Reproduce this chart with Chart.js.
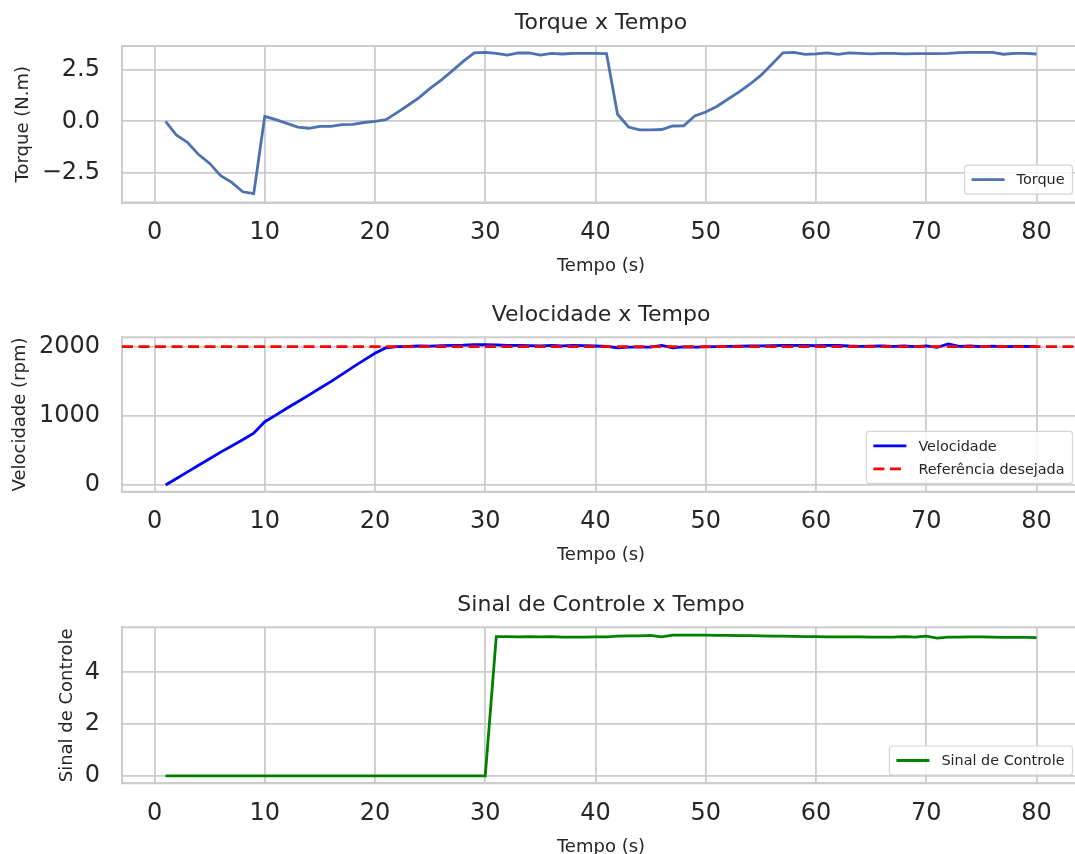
<!DOCTYPE html>
<html>
<head>
<meta charset="utf-8">
<script src="https://cdn.jsdelivr.net/npm/chart.js@4.4.1/dist/chart.umd.min.js"></script>
<style>
  html, body { margin: 0; padding: 0; background: #ffffff; overflow: hidden; width: 1075px; height: 854px; }
  canvas { position: absolute; left: 0; }
</style>
</head>
<body>
<canvas id="c1" width="1080" height="290" style="top:0px"></canvas>
<canvas id="c2" width="1080" height="290" style="top:290px"></canvas>
<canvas id="c3" width="1080" height="290" style="top:580px"></canvas>
<script>
// ---------------- DATA ----------------
const tempo = [1,2,3,4,5,6,7,8,9,10,11,12,13,14,15,16,17,18,19,20,
  21,22,23,24,25,26,27,28,29,30,31,32,33,34,35,36,37,38,39,40,
  41,42,43,44,45,46,47,48,49,50,51,52,53,54,55,56,57,58,59,60,
  61,62,63,64,65,66,67,68,69,70,71,72,73,74,75,76,77,78,79,80];

const torque = [0.00,-0.68,-1.03,-1.62,-2.05,-2.65,-2.97,-3.43,-3.52,0.24,
  0.08,-0.10,-0.28,-0.34,-0.25,-0.25,-0.16,-0.15,-0.06,0.00,
  0.08,0.42,0.78,1.15,1.60,2.00,2.45,2.91,3.33,3.35,
  3.30,3.22,3.32,3.32,3.22,3.30,3.27,3.30,3.30,3.30,
  3.29,0.34,-0.28,-0.42,-0.42,-0.40,-0.23,-0.22,0.26,0.45,
  0.72,1.07,1.42,1.80,2.23,2.77,3.33,3.35,3.25,3.28,
  3.33,3.25,3.33,3.30,3.28,3.30,3.30,3.28,3.29,3.29,
  3.29,3.30,3.34,3.35,3.35,3.35,3.26,3.30,3.30,3.27];

const velocidade = [0,95,190,285,380,475,565,655,750,915,
  1010,1110,1205,1300,1400,1495,1600,1705,1805,1905,
  1985,2000,2005,2010,2008,2015,2020,2022,2030,2028,
  2025,2018,2020,2015,2010,2020,2012,2018,2015,2010,
  2005,1985,1995,1995,1995,2020,1985,1998,1995,1998,
  2000,2005,2008,2010,2012,2015,2018,2020,2018,2015,
  2018,2020,2010,2005,2008,2010,2005,2010,2000,2012,
  1990,2040,2005,2010,2000,2008,2002,2005,2003,2005];

const referencia = 2000;

const sinalControle = [0,0,0,0,0,0,0,0,0,0,
  0,0,0,0,0,0,0,0,0,0,
  0,0,0,0,0,0,0,0,0,0,
  5.38,5.38,5.37,5.38,5.37,5.38,5.36,5.36,5.36,5.37,
  5.37,5.40,5.41,5.41,5.43,5.37,5.44,5.44,5.44,5.44,
  5.43,5.43,5.42,5.42,5.41,5.40,5.40,5.39,5.38,5.38,
  5.37,5.37,5.37,5.37,5.36,5.36,5.36,5.38,5.36,5.40,
  5.32,5.36,5.36,5.37,5.37,5.36,5.35,5.35,5.35,5.34];

const xTicks = [0,10,20,30,40,50,60,70,80];
const xRange = [-2.95, 83.95];

const yTicksTorque = [-2.5, 0, 2.5];
const yLabelsTorque = ['\u22122.5', '0.0', '2.5'];
const yRangeTorque = [-3.95, 3.66];

const yTicksVel = [0, 1000, 2000];
const yLabelsVel = ['0', '1000', '2000'];
const yRangeVel = [-97, 2136];

const yTicksSinal = [0, 2, 4];
const yLabelsSinal = ['0', '2', '4'];
const yRangeSinal = [-0.29, 5.74];

// ---------------- STYLE ----------------
const FONT = "'DejaVu Sans', 'Liberation Sans', sans-serif";
const TXT = '#262626';
const GRID = '#cccccc';
const TITLE_SIZE = 22, LABEL_SIZE = 18, TICK_SIZE = 24;

const framePlugin = {
  id: 'frame',
  beforeDatasetsDraw(chart) {
    const a = chart.chartArea, ctx = chart.ctx;
    ctx.save();
    ctx.strokeStyle = GRID;
    ctx.lineWidth = 2;
    ctx.strokeRect(a.left, a.top, a.right - a.left, a.bottom - a.top);
    ctx.restore();
  }
};

const boxLegendPlugin = {
  id: 'boxLegend',
  afterDraw(chart, args, opts) {
    const order = opts.order || [];
    if (!order.length) return;
    const ctx = chart.ctx, a = chart.chartArea;
    const ds = order.map(i => chart.data.datasets[i]);
    ctx.save();
    ctx.font = '14.4px ' + FONT;
    let tw = 0;
    ds.forEach(d => { tw = Math.max(tw, ctx.measureText(d.label).width); });
    const padX = 7, lineLen = 33, gap = 12, rowH = 23, padY = 3;
    const w = padX + lineLen + gap + tw + 8;
    const h = ds.length * rowH + 2 * padY;
    const right = a.right - 7.5, bottom = a.bottom - 8.3;
    const left = right - w, top = bottom - h;
    ctx.beginPath();
    if (ctx.roundRect) ctx.roundRect(left, top, w, h, 3); else ctx.rect(left, top, w, h);
    ctx.fillStyle = 'rgba(255,255,255,0.8)';
    ctx.fill();
    ctx.strokeStyle = '#d6d6d6';
    ctx.lineWidth = 1.2;
    ctx.stroke();
    ds.forEach((d, i) => {
      const cy = top + padY + rowH * i + rowH / 2;
      ctx.beginPath();
      ctx.setLineDash(d.borderDash || []);
      ctx.strokeStyle = d.borderColor;
      ctx.lineWidth = d.borderWidth;
      ctx.moveTo(left + padX, cy);
      ctx.lineTo(left + padX + lineLen, cy);
      ctx.stroke();
      ctx.setLineDash([]);
      ctx.fillStyle = TXT;
      ctx.textBaseline = 'middle';
      ctx.textAlign = 'left';
      ctx.fillText(d.label, left + padX + lineLen + gap, cy + 1);
    });
    ctx.restore();
  }
};

function pts(ys) { return tempo.map((t, i) => ({ x: t, y: ys[i] })); }

function makeChart(id, cfg) {
  const lhT = TITLE_SIZE * 1.2, lhL = LABEL_SIZE * 1.2;
  return new Chart(document.getElementById(id), {
    type: 'line',
    data: { datasets: cfg.datasets },
    options: {
      responsive: false,
      animation: false,
      devicePixelRatio: 1,
      layout: { padding: 0 },
      elements: { point: { radius: 0 }, line: { tension: 0 } },
      plugins: {
        legend: { display: false },
        tooltip: { enabled: false },
        title: {
          display: true, text: cfg.title, color: TXT, fullSize: false,
          font: { family: FONT, size: TITLE_SIZE, weight: 'normal' },
          padding: { top: cfg.titleC - lhT / 2, bottom: cfg.areaTop - cfg.titleC - lhT / 2 }
        },
        boxLegend: { order: cfg.legendOrder }
      },
      scales: {
        x: {
          type: 'linear', min: xRange[0], max: xRange[1],
          afterBuildTicks: s => { s.ticks = xTicks.map(v => ({ value: v })); },
          afterFit: s => { s.height = 290 - cfg.areaBottom; },
          ticks: { color: TXT, font: { family: FONT, size: TICK_SIZE }, padding: 16, autoSkip: false, maxRotation: 0,
                   callback: v => String(v) },
          grid: { color: GRID, lineWidth: 1.8, drawTicks: false },
          border: { color: GRID, width: 2 },
          title: { display: true, text: 'Tempo (s)', color: TXT, font: { family: FONT, size: LABEL_SIZE },
                   padding: { top: 0, bottom: cfg.xTitleOff - lhL / 2 } }
        },
        y: {
          type: 'linear', min: cfg.yRange[0], max: cfg.yRange[1],
          afterBuildTicks: s => { s.ticks = cfg.yTicks.map(v => ({ value: v })); },
          afterFit: s => { s.width = 122; },
          ticks: { color: TXT, font: { family: FONT, size: TICK_SIZE }, padding: 22, autoSkip: false,
                   callback: v => { const k = cfg.yTicks.indexOf(v); return k >= 0 ? cfg.yLabels[k] : ''; } },
          grid: { color: GRID, lineWidth: 1.8, drawTicks: false },
          border: { color: GRID, width: 2 },
          title: { display: true, text: cfg.yTitle, color: TXT, font: { family: FONT, size: LABEL_SIZE },
                   padding: { top: cfg.yTitleX - lhL / 2, bottom: 0 } }
        }
      }
    },
    plugins: [framePlugin, boxLegendPlugin]
  });
}

makeChart('c1', {
  title: 'Torque x Tempo', titleC: 23.5, areaTop: 46, areaBottom: 202.5, xTitleOff: 24, yTitleX: 23,
  yTitle: 'Torque (N.m)', yRange: yRangeTorque, yTicks: yTicksTorque, yLabels: yLabelsTorque,
  legendOrder: [0],
  datasets: [
    { label: 'Torque', data: pts(torque), borderColor: '#4c72b0', borderWidth: 2.8, fill: false }
  ]
});

makeChart('c2', {
  title: 'Velocidade x Tempo', titleC: 25.5, areaTop: 47.3, areaBottom: 201.7, xTitleOff: 25, yTitleX: 20,
  yTitle: 'Velocidade (rpm)', yRange: yRangeVel, yTicks: yTicksVel, yLabels: yLabelsVel,
  legendOrder: [0, 1],
  datasets: [
    { label: 'Velocidade', data: pts(velocidade), borderColor: '#0000ff', borderWidth: 2.8, fill: false, order: 2 },
    { label: 'Refer\u00eancia desejada', data: [{ x: xRange[0], y: referencia }, { x: xRange[1], y: referencia }],
      borderColor: '#ff0000', borderWidth: 2.8, borderDash: [11, 5.5], fill: false, order: 1 }
  ]
});

makeChart('c3', {
  title: 'Sinal de Controle x Tempo', titleC: 25.5, areaTop: 47.3, areaBottom: 203.3, xTitleOff: 23, yTitleX: 67,
  yTitle: 'Sinal de Controle', yRange: yRangeSinal, yTicks: yTicksSinal, yLabels: yLabelsSinal,
  legendOrder: [0],
  datasets: [
    { label: 'Sinal de Controle', data: pts(sinalControle), borderColor: '#008000', borderWidth: 2.8, fill: false }
  ]
});
</script>
</body>
</html>
